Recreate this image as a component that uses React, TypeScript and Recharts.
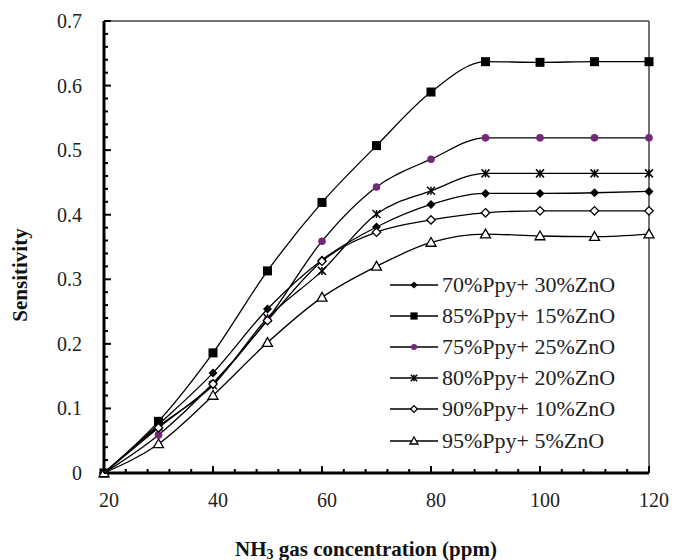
import React from 'react';
import { LineChart, Line, XAxis, YAxis, Legend, ReferenceLine } from 'recharts';

// NH3 concentration (ppm)
const concentration = [20, 30, 40, 50, 60, 70, 80, 90, 100, 110, 120];

// sensitivity per composite
const ppy70 = [0, 0.075, 0.155, 0.254, 0.33, 0.381, 0.416, 0.433, 0.433, 0.434, 0.436];
const ppy85 = [0, 0.08, 0.186, 0.313, 0.419, 0.507, 0.59, 0.637, 0.636, 0.637, 0.637];
const ppy75 = [0, 0.059, 0.139, 0.238, 0.359, 0.443, 0.486, 0.519, 0.519, 0.519, 0.519];
const ppy80 = [0, 0.072, 0.136, 0.24, 0.313, 0.401, 0.437, 0.464, 0.464, 0.464, 0.464];
const ppy90 = [0, 0.07, 0.138, 0.236, 0.328, 0.373, 0.392, 0.403, 0.406, 0.406, 0.406];
const ppy95 = [0, 0.045, 0.12, 0.202, 0.272, 0.32, 0.357, 0.37, 0.367, 0.366, 0.37];

const xTicks = [20, 24, 28, 32, 36, 40, 44, 48, 52, 56, 60, 64, 68, 72, 76, 80, 84, 88, 92, 96, 100, 104, 108, 112, 116, 120];
const yTicks = [0, 0.02, 0.04, 0.06, 0.08, 0.1, 0.12, 0.14, 0.16, 0.18, 0.2, 0.22, 0.24, 0.26, 0.28, 0.3, 0.32, 0.34, 0.36, 0.38, 0.4, 0.42, 0.44, 0.46, 0.48, 0.5, 0.52, 0.54, 0.56, 0.58, 0.6, 0.62, 0.64, 0.66, 0.68, 0.7];

const FONT = "'Liberation Serif', 'Times New Roman', Tinos, 'DejaVu Serif', serif";

const series = [
  { key: 'p70', name: '70%Ppy+ 30%ZnO', values: ppy70, shape: 'diamond' },
  { key: 'p85', name: '85%Ppy+ 15%ZnO', values: ppy85, shape: 'square' },
  { key: 'p75', name: '75%Ppy+ 25%ZnO', values: ppy75, shape: 'circle' },
  { key: 'p80', name: '80%Ppy+ 20%ZnO', values: ppy80, shape: 'star' },
  { key: 'p90', name: '90%Ppy+ 10%ZnO', values: ppy90, shape: 'openDiamond' },
  { key: 'p95', name: '95%Ppy+ 5%ZnO', values: ppy95, shape: 'triangle' },
];

const data = concentration.map((c, i) => {
  const row: any = { c };
  series.forEach((s) => { row[s.key] = s.values[i]; });
  return row;
});

const Marker = ({ shape, cx, cy, k = 1 }: any) => {
  if (cx == null || cy == null) return null;
  if (shape === 'diamond') {
    const r = 4.5 * k;
    return <polygon points={`${cx},${cy - r} ${cx + r},${cy} ${cx},${cy + r} ${cx - r},${cy}`} fill="#000" />;
  }
  if (shape === 'square') {
    const s = 4.5 * k;
    return <rect x={cx - s} y={cy - s} width={2 * s} height={2 * s} fill="#000" />;
  }
  if (shape === 'circle') {
    return <circle cx={cx} cy={cy} r={3.8 * k} fill="#75287a" />;
  }
  if (shape === 'star') {
    const r = 4 * k;
    return (
      <g stroke="#000" strokeWidth={1.5}>
        <line x1={cx - r} y1={cy - r} x2={cx + r} y2={cy + r} />
        <line x1={cx - r} y1={cy + r} x2={cx + r} y2={cy - r} />
        <line x1={cx} y1={cy - r} x2={cx} y2={cy + r} />
      </g>
    );
  }
  if (shape === 'openDiamond') {
    const r = 4.2 * k;
    return <polygon points={`${cx},${cy - r} ${cx + r},${cy} ${cx},${cy + r} ${cx - r},${cy}`} fill="#fff" stroke="#000" strokeWidth={1.3} />;
  }
  const r = 5 * k;
  return <polygon points={`${cx},${cy - r} ${cx + r},${cy + r * 0.75} ${cx - r},${cy + r * 0.75}`} fill="#fff" stroke="#000" strokeWidth={1.3} />;
};

const XTick = (props: any) => {
  const { x, y, payload } = props;
  const v = payload.value;
  const major = v % 20 === 0;
  return (
    <g>
      <line x1={x} y1={y} x2={x} y2={y - (major ? 7 : 4)} stroke="#000" strokeWidth={2} />
      {major && (
        <text x={x + 5} y={y + 27} textAnchor="middle" dominantBaseline="central" style={{ fontFamily: FONT }} fontSize={20} fill="#222">
          {v}
        </text>
      )}
    </g>
  );
};

const YTick = (props: any) => {
  const { x, y, payload } = props;
  const v = payload.value;
  const major = Math.abs(v * 10 - Math.round(v * 10)) < 1e-6;
  return (
    <g>
      <line x1={x} y1={y} x2={x + (major ? 7 : 4)} y2={y} stroke="#000" strokeWidth={2} />
      {major && (
        <text x={x - 22} y={y} textAnchor="end" dominantBaseline="central" style={{ fontFamily: FONT }} fontSize={20} fill="#222">
          {v === 0 ? '0' : v.toFixed(1)}
        </text>
      )}
    </g>
  );
};

// legend drawn in the original series order (not sorted)
const renderLegend = () => (
  <div style={{ fontFamily: FONT, fontSize: 22, color: '#222' }}>
    {series.map((s) => (
      <div key={s.key} style={{ display: 'flex', alignItems: 'center', height: 31.2 }}>
        <svg width={52} height={20} style={{ flex: 'none' }}>
          <line x1={0} y1={10} x2={48} y2={10} stroke="#000" strokeWidth={1.3} />
          <Marker shape={s.shape} cx={24} cy={10} k={0.8} />
        </svg>
        <span style={{ whiteSpace: 'pre' }}>{s.name}</span>
      </div>
    ))}
  </div>
);

export default function App() {
  return (
    <div style={{ position: 'absolute', left: 0, top: 0, background: '#fff', fontFamily: FONT }}>
      <LineChart width={679} height={560} data={data} margin={{ top: 21, right: 30, left: 0, bottom: 27 }}>
        <XAxis
          dataKey="c"
          type="number"
          domain={[20, 120]}
          ticks={xTicks}
          interval={0}
          height={60}
          tickSize={0}
          tickMargin={0}
          tickLine={false}
          tick={<XTick />}
          axisLine={{ stroke: '#000', strokeWidth: 3 }}
          label={() => (
            <text x={366} y={549} textAnchor="middle" dominantBaseline="central" style={{ fontFamily: FONT }} fontSize={21} fontWeight="bold" fill="#111">
              <tspan>NH</tspan>
              <tspan dy={5} fontSize={14}>3</tspan>
              <tspan dy={-5}> gas concentration (ppm)</tspan>
            </text>
          )}
        />
        <YAxis
          type="number"
          domain={[0, 0.7]}
          ticks={yTicks}
          interval={0}
          width={104}
          tickSize={0}
          tickMargin={0}
          tickLine={false}
          tick={<YTick />}
          axisLine={{ stroke: '#000', strokeWidth: 3 }}
          label={() => (
            <text
              x={20}
              y={275}
              transform="rotate(-90 20 275)"
              textAnchor="middle"
              dominantBaseline="central"
              style={{ fontFamily: FONT }}
              fontSize={21}
              fontWeight="bold"
              fill="#111"
            >
              Sensitivity
            </text>
          )}
        />
        <ReferenceLine y={0.7} stroke="#444" strokeWidth={1.5} />
        <ReferenceLine x={120} stroke="#444" strokeWidth={1.5} />
        {series.map((s) => (
          <Line
            key={s.key}
            dataKey={s.key}
            name={s.name}
            type="monotone"
            stroke="#000"
            strokeWidth={1.3}
            isAnimationActive={false}
            dot={(p: any) => <Marker key={`${s.key}-${p.index}`} shape={s.shape} cx={p.cx} cy={p.cy} />}
            activeDot={false}
          />
        ))}
        <Legend
          layout="vertical"
          align="center"
          verticalAlign="middle"
          content={renderLegend}
          wrapperStyle={{ left: 390, top: 269, width: 260 }}
        />
      </LineChart>
    </div>
  );
}
